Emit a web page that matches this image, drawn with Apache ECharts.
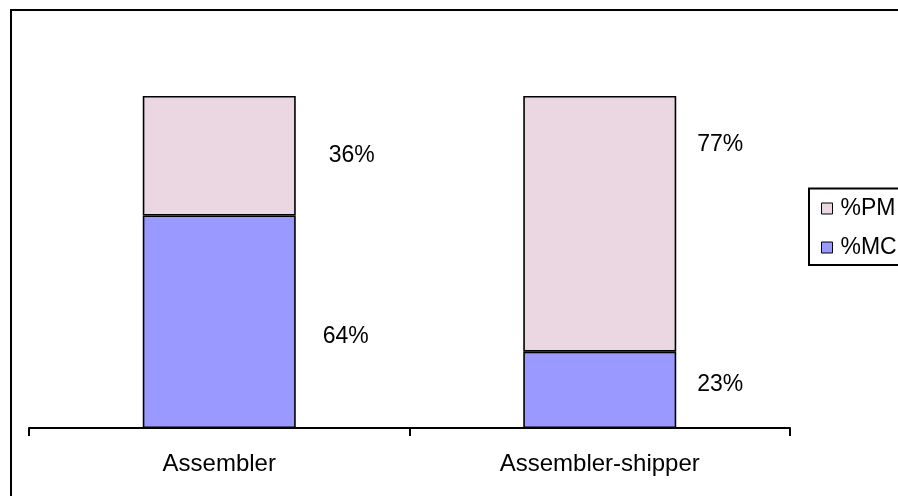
<!DOCTYPE html>
<html><head><meta charset="utf-8">
<script src="https://cdn.jsdelivr.net/npm/echarts@6/dist/echarts.min.js"></script>
<style>html,body{margin:0;padding:0;background:#fff}#c{width:898px;height:496px}</style>
</head><body><div id="c"></div>
<script>
const categories = ['Assembler', 'Assembler-shipper'];
const seriesNames = ['%MC', '%PM'];
const valuesMC = [64, 23];
const valuesPM = [36, 77];

// label placement tweaks (style, not data)
const offsMC = [[27, 15], [21, -5]];
const offsPM = [[33, 0], [21, -79]];

const FONT = 'Liberation Sans, Arial, sans-serif';
const chart = echarts.init(document.getElementById('c'));

function items(vals, offs) {
  return vals.map((v, i) => ({
    value: v,
    label: { offset: offs[i] }
  }));
}
const labelBase = {
  show: true, position: 'right', distance: 0,
  formatter: p => p.value + '%',
  color: '#000', fontSize: 23, fontFamily: FONT
};

chart.setOption({
  animation: false,
  backgroundColor: '#fff',
  grid: { left: 29, right: 108, top: 96, bottom: 68, containLabel: false },
  xAxis: {
    type: 'category', data: categories, boundaryGap: true,
    axisLine: { lineStyle: { color: '#000', width: 2 } },
    axisTick: { show: true, length: 8, lineStyle: { color: '#000', width: 2 } },
    axisLabel: { color: '#000', fontSize: 24, fontFamily: FONT, margin: 24 }
  },
  yAxis: { type: 'value', min: 0, max: 100, show: false, splitLine: { show: false } },
  legend: {
    orient: 'vertical', left: 821, top: 197, padding: 0,
    data: ['%PM', '%MC'],
    icon: 'rect', itemWidth: 11, itemHeight: 11, itemGap: 16,
    itemStyle: { borderWidth: 1, borderColor: '#000' },
    textStyle: { color: '#000', fontSize: 23, fontFamily: FONT, lineHeight: 23, padding: [0, 0, 0, 3] }
  },
  series: [
    {
      name: seriesNames[0], type: 'bar', stack: 's', barWidth: 153,
      itemStyle: { color: '#9999FF', borderColor: '#000', borderWidth: 1.6 },
      label: labelBase,
      data: items(valuesMC, offsMC)
    },
    {
      name: seriesNames[1], type: 'bar', stack: 's', barWidth: 153,
      itemStyle: { color: '#EAD7E2', borderColor: '#000', borderWidth: 1.6 },
      label: labelBase,
      data: items(valuesPM, offsPM)
    }
  ],
  graphic: [
    { type: 'rect', silent: true, z: 100, shape: { x: 11, y: 10, width: 1000, height: 1000 },
      style: { fill: 'none', stroke: '#000', lineWidth: 2 } },
    { type: 'rect', silent: true, z: 100, shape: { x: 809, y: 188.5, width: 200, height: 76.5 },
      style: { fill: 'none', stroke: '#000', lineWidth: 2 } }
  ]
});
</script></body></html>
